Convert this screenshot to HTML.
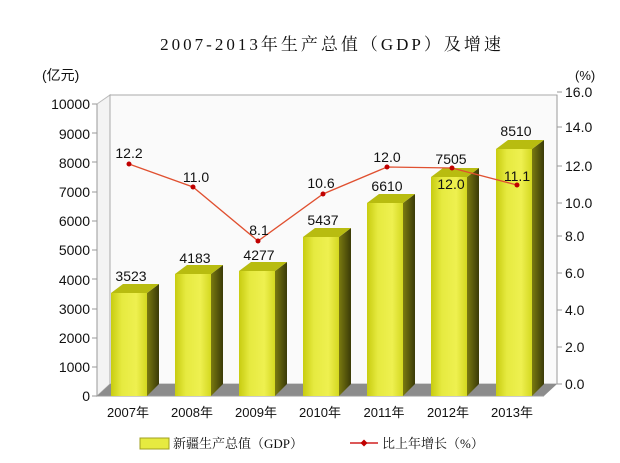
<!DOCTYPE html>
<html><head><meta charset="utf-8"><style>
body{margin:0;background:#fff}
svg text{font-family:"Liberation Sans","Noto Sans CJK SC",sans-serif;fill:#111}
</style></head><body>
<svg width="620" height="458" viewBox="0 0 620 458" xmlns="http://www.w3.org/2000/svg">
<defs>
<linearGradient id="fr" x1="0" x2="1" y1="0" y2="0">
<stop offset="0" stop-color="#c8cc10"/><stop offset="0.3" stop-color="#e6ea40"/><stop offset="0.7" stop-color="#eef050"/><stop offset="1" stop-color="#d4d820"/></linearGradient>
<linearGradient id="sd" x1="0" x2="1"><stop offset="0" stop-color="#7a7a10"/><stop offset="1" stop-color="#3a3a08"/></linearGradient>
</defs>
<text x="332" y="50" text-anchor="middle" font-size="17" style="font-family:'Liberation Serif','Noto Serif CJK SC',serif;letter-spacing:3px">2007-2013年生产总值（GDP）及增速</text>
<text x="42" y="80" font-size="14">(亿元)</text>
<text x="575" y="80" font-size="13">(%)</text>
<polygon points="97,104 110,95 110,384 97,396" fill="#f3f3f3" stroke="#bbb"/>
<rect x="110" y="95" width="447" height="289" fill="#fafafa" stroke="#aaa"/>
<polygon points="97,396 110,384 557,384 544,396" fill="#8c8c8c"/>
<line x1="97" y1="104" x2="97" y2="396" stroke="#999"/>
<line x1="97" y1="396" x2="544" y2="396" stroke="#999"/>
<line x1="557" y1="95" x2="557" y2="384" stroke="#999"/>
<g font-size="14" text-anchor="end">
<text x="90" y="401">0</text><text x="90" y="372">1000</text><text x="90" y="343">2000</text><text x="90" y="314">3000</text><text x="90" y="285">4000</text><text x="90" y="255">5000</text><text x="90" y="226">6000</text><text x="90" y="197">7000</text><text x="90" y="168">8000</text><text x="90" y="139">9000</text><text x="90" y="109">10000</text>
</g>
<g stroke="#999"><line x1="92" y1="396" x2="97" y2="396"/><line x1="92" y1="367" x2="97" y2="367"/><line x1="92" y1="338" x2="97" y2="338"/><line x1="92" y1="309" x2="97" y2="309"/><line x1="92" y1="279" x2="97" y2="279"/><line x1="92" y1="250" x2="97" y2="250"/><line x1="92" y1="221" x2="97" y2="221"/><line x1="92" y1="192" x2="97" y2="192"/><line x1="92" y1="162" x2="97" y2="162"/><line x1="92" y1="133" x2="97" y2="133"/><line x1="92" y1="104" x2="97" y2="104"/>
<line x1="557" y1="384" x2="562" y2="384"/><line x1="557" y1="347" x2="562" y2="347"/><line x1="557" y1="310" x2="562" y2="310"/><line x1="557" y1="273" x2="562" y2="273"/><line x1="557" y1="236" x2="562" y2="236"/><line x1="557" y1="203" x2="562" y2="203"/><line x1="557" y1="166" x2="562" y2="166"/><line x1="557" y1="127" x2="562" y2="127"/><line x1="557" y1="92" x2="562" y2="92"/></g>
<g font-size="14">
<text x="565" y="389">0.0</text><text x="565" y="352">2.0</text><text x="565" y="315">4.0</text><text x="565" y="278">6.0</text><text x="565" y="241">8.0</text><text x="565" y="208">10.0</text><text x="565" y="171">12.0</text><text x="565" y="132">14.0</text><text x="565" y="97">16.0</text>
</g>
<g>
<polygon points="147,293 159,284 159,384 147,396" fill="url(#sd)"/><polygon points="111,293 123,284 159,284 147,293" fill="#b8bc10"/><rect x="111" y="293" width="36" height="103" fill="url(#fr)"/>
<polygon points="211,274 223,265 223,384 211,396" fill="url(#sd)"/><polygon points="175,274 187,265 223,265 211,274" fill="#b8bc10"/><rect x="175" y="274" width="36" height="122" fill="url(#fr)"/>
<polygon points="275,271 287,262 287,384 275,396" fill="url(#sd)"/><polygon points="239,271 251,262 287,262 275,271" fill="#b8bc10"/><rect x="239" y="271" width="36" height="125" fill="url(#fr)"/>
<polygon points="339,237 351,228 351,384 339,396" fill="url(#sd)"/><polygon points="303,237 315,228 351,228 339,237" fill="#b8bc10"/><rect x="303" y="237" width="36" height="159" fill="url(#fr)"/>
<polygon points="403,203 415,194 415,384 403,396" fill="url(#sd)"/><polygon points="367,203 379,194 415,194 403,203" fill="#b8bc10"/><rect x="367" y="203" width="36" height="193" fill="url(#fr)"/>
<polygon points="467,177 479,168 479,384 467,396" fill="url(#sd)"/><polygon points="431,177 443,168 479,168 467,177" fill="#b8bc10"/><rect x="431" y="177" width="36" height="219" fill="url(#fr)"/>
<polygon points="532,149 544,140 544,384 532,396" fill="url(#sd)"/><polygon points="496,149 508,140 544,140 532,149" fill="#b8bc10"/><rect x="496" y="149" width="36" height="247" fill="url(#fr)"/>
</g>
<g font-size="14" text-anchor="middle">
<text x="131" y="281">3523</text><text x="195" y="263">4183</text><text x="259" y="260">4277</text><text x="323" y="225">5437</text><text x="387" y="191">6610</text><text x="451" y="164">7505</text><text x="516" y="136">8510</text>
</g>
<polyline points="129,164 193,187 258,241 323,194 387,167 452,168 517,185" fill="none" stroke="#e05030" stroke-width="1.3"/>
<g fill="#c00000"><circle cx="129" cy="164" r="2.5"/><circle cx="193" cy="187" r="2.5"/><circle cx="258" cy="241" r="2.5"/><circle cx="323" cy="194" r="2.5"/><circle cx="387" cy="167" r="2.5"/><circle cx="452" cy="168" r="2.5"/><circle cx="517" cy="185" r="2.5"/></g>
<g font-size="14" text-anchor="middle">
<text x="129" y="158">12.2</text><text x="196" y="182">11.0</text><text x="259" y="235">8.1</text><text x="321" y="188">10.6</text><text x="387" y="162">12.0</text><text x="451" y="189">12.0</text><text x="517" y="181">11.1</text>
</g>
<g font-size="13" text-anchor="middle">
<text x="128" y="417">2007年</text><text x="192" y="417">2008年</text><text x="256" y="417">2009年</text><text x="320" y="417">2010年</text><text x="384" y="417">2011年</text><text x="448" y="417">2012年</text><text x="512" y="417">2013年</text>
</g>
<rect x="140" y="438" width="29" height="11" fill="#e6ea40" stroke="#a0a020"/>
<text x="173" y="448" font-size="13" style="font-family:'Liberation Serif','Noto Serif CJK SC',serif">新疆生产总值（GDP）</text>
<line x1="350" y1="443" x2="378" y2="443" stroke="#d02020" stroke-width="1.5"/>
<polygon points="364,439.5 367.5,443 364,446.5 360.5,443" fill="#c00000"/>
<text x="382" y="448" font-size="13" style="font-family:'Liberation Serif','Noto Serif CJK SC',serif">比上年增长（%）</text>
</svg>
</body></html>
